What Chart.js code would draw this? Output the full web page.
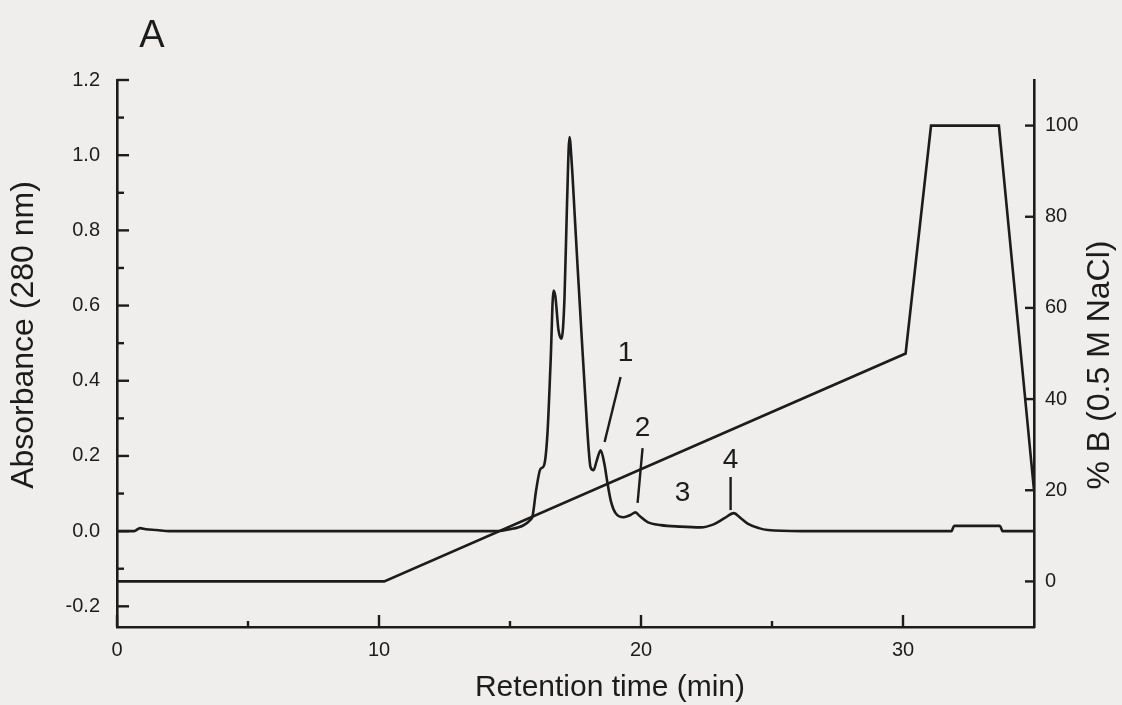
<!DOCTYPE html>
<html>
<head>
<meta charset="utf-8">
<title>Retention time chromatogram</title>
<script src="https://cdn.jsdelivr.net/npm/chart.js@4.4.1/dist/chart.umd.min.js"></script>
<style>
  html, body { margin: 0; padding: 0; background: #efeeec; }
  #wrap { width: 1122px; height: 705px; }
  canvas { display: block; }
</style>
</head>
<body>
<div id="wrap"><canvas id="chart" width="1122" height="705"></canvas></div>
<script>
// Absorbance trace (280 nm) against retention time
const timeMin = [
  0, 0.65, 0.88, 1.1, 1.5, 2.0, 8.0, 14.5, 15.0, 15.5, 15.75, 15.86, 16.0, 16.16, 16.3,
  16.43, 16.55, 16.66, 16.73, 16.85, 16.97, 17.08, 17.18, 17.27, 17.36, 17.47, 17.58,
  17.75, 17.88, 18.0, 18.07, 18.19, 18.3, 18.46, 18.6, 18.72, 18.85, 19.03, 19.34, 19.6,
  19.79, 19.95, 20.25, 20.75, 21.5, 22.28, 22.77, 23.2, 23.54, 23.8, 24.07, 24.5, 24.84,
  26.1, 31.85, 31.95, 33.7, 33.8, 35.0
];
const absorbance = [
  0, 0, 0.008, 0.005, 0.003, 0, 0, 0, 0.005, 0.015, 0.028, 0.04, 0.11, 0.165, 0.175,
  0.26, 0.45, 0.64, 0.625, 0.535, 0.512, 0.62, 0.88, 1.048, 0.975, 0.84, 0.703,
  0.5, 0.349, 0.22, 0.171, 0.162, 0.185, 0.215, 0.18, 0.128, 0.08, 0.048, 0.037, 0.043,
  0.05, 0.04, 0.024, 0.016, 0.012, 0.01, 0.018, 0.035, 0.048, 0.035, 0.02, 0.008, 0.003,
  0, 0, 0.014, 0.014, 0, 0
];

// Salt gradient programme, % B (0.5 M NaCl)
const gradTime = [0, 10.2, 30.1, 31.07, 33.66, 35.0];
const gradPct  = [0, 0, 50, 100, 100, 20];

// Axis ticks
const timeTicks  = [0, 10, 20, 30];
const timeMinor  = [5, 15, 25];
const absTicks   = [-0.2, 0.0, 0.2, 0.4, 0.6, 0.8, 1.0, 1.2];
const absMinor   = [-0.1, 0.1, 0.3, 0.5, 0.7, 0.9, 1.1];
const pctTicks   = [0, 20, 40, 60, 80, 100];

// Fraction labels: text, text position (min, AU), leader line from/to (min, AU)
const fracNames = ['1', '2', '3', '4'];
const fracText  = [[19.41, 0.474], [20.06, 0.274], [21.59, 0.101], [23.42, 0.189]];
const fracLead  = [
  [[19.22, 0.41], [18.61, 0.237]],
  [[20.06, 0.221], [19.87, 0.075]],
  null,
  [[23.42, 0.144], [23.42, 0.056]]
];

const INK = '#1c1c1c';
const FONT = '"Liberation Sans", Arial, Helvetica, sans-serif';

const fixedSize = (w, h) => (scale) => {
  if (w != null) scale.width = w;
  if (h != null) scale.height = h;
};
const setTicks = (values) => (scale) => {
  scale.ticks = values.map(v => ({ value: v }));
};

// Inward tick marks, titles and fraction labels
const decorations = {
  id: 'decorations',
  beforeDraw(chart) {
    const { ctx, width, height } = chart;
    ctx.save();
    ctx.fillStyle = '#efeeec';
    ctx.fillRect(0, 0, width, height);
    ctx.restore();
  },
  afterDatasetsDraw(chart) {
    const { ctx, chartArea: ca, scales: { x, y, y1 } } = chart;
    ctx.save();
    ctx.strokeStyle = INK;
    ctx.lineWidth = 2.4;
    ctx.lineCap = 'butt';
    const seg = (x0, y0, x1, y1_) => {
      ctx.beginPath(); ctx.moveTo(x0, y0); ctx.lineTo(x1, y1_); ctx.stroke();
    };
    absTicks.forEach(v => { const p = y.getPixelForValue(v); seg(ca.left, p, ca.left + 12, p); });
    absMinor.forEach(v => { const p = y.getPixelForValue(v); seg(ca.left, p, ca.left + 7, p); });
    pctTicks.forEach(v => { const p = y1.getPixelForValue(v); seg(ca.right - 9, p, ca.right, p); });
    timeTicks.forEach(v => { const p = x.getPixelForValue(v); seg(p, ca.bottom, p, ca.bottom - 12); });
    timeMinor.forEach(v => { const p = x.getPixelForValue(v); seg(p, ca.bottom, p, ca.bottom - 6); });

    // leader lines to fractions
    fracLead.forEach(l => {
      if (!l) return;
      seg(x.getPixelForValue(l[0][0]), y.getPixelForValue(l[0][1]),
          x.getPixelForValue(l[1][0]), y.getPixelForValue(l[1][1]));
    });

    ctx.fillStyle = INK;
    ctx.textAlign = 'center';
    ctx.textBaseline = 'middle';
    ctx.font = '28px ' + FONT;
    fracNames.forEach((t, i) => {
      ctx.fillText(t, x.getPixelForValue(fracText[i][0]), y.getPixelForValue(fracText[i][1]));
    });

    // panel letter
    ctx.textBaseline = 'alphabetic';
    ctx.font = '38px ' + FONT;
    ctx.fillText('A', 152, 47);

    // axis titles
    ctx.textBaseline = 'middle';
    ctx.font = '30px ' + FONT;
    ctx.fillText('Retention time (min)', 610, 688);

    ctx.font = '32px ' + FONT;
    ctx.save();
    ctx.translate(24, 335);
    ctx.rotate(-Math.PI / 2);
    ctx.fillText('Absorbance (280 nm)', 0, 0);
    ctx.restore();

    ctx.save();
    ctx.translate(1100, 365);
    ctx.rotate(-Math.PI / 2);
    ctx.fillText('% B (0.5 M NaCl)', 0, 0);
    ctx.restore();

    ctx.restore();
  }
};

new Chart(document.getElementById('chart'), {
  type: 'line',
  data: {
    datasets: [
      {
        label: 'Absorbance (280 nm)',
        data: timeMin.map((t, i) => ({ x: t, y: absorbance[i] })),
        yAxisID: 'y',
        borderColor: INK,
        borderWidth: 2.6,
        pointRadius: 0,
        cubicInterpolationMode: 'monotone',
        fill: false
      },
      {
        label: '% B (0.5 M NaCl)',
        data: gradTime.map((t, i) => ({ x: t, y: gradPct[i] })),
        yAxisID: 'y1',
        borderColor: INK,
        borderWidth: 2.6,
        pointRadius: 0,
        tension: 0,
        fill: false
      }
    ]
  },
  options: {
    responsive: false,
    animation: false,
    devicePixelRatio: 1,
    layout: { padding: { top: 80, left: 0, right: 0, bottom: 0 } },
    plugins: { legend: { display: false }, tooltip: { enabled: false }, title: { display: false } },
    scales: {
      x: {
        type: 'linear',
        min: 0,
        max: 35,
        afterFit: fixedSize(null, 78),
        afterBuildTicks: setTicks(timeTicks),
        grid: { drawOnChartArea: false, drawTicks: false },
        border: { display: true, color: INK, width: 2.6 },
        ticks: { color: INK, font: { family: FONT, size: 20 }, padding: 11, maxRotation: 0,
                 callback: v => String(v) }
      },
      y: {
        type: 'linear',
        position: 'left',
        min: -0.255,
        max: 1.2,
        afterFit: fixedSize(117, null),
        afterBuildTicks: setTicks(absTicks),
        grid: { drawOnChartArea: false, drawTicks: false },
        border: { display: true, color: INK, width: 2.6 },
        ticks: { color: INK, font: { family: FONT, size: 20 }, padding: 17,
                 callback: v => v.toFixed(1) }
      },
      y1: {
        type: 'linear',
        position: 'right',
        min: -10,
        max: 110,
        afterFit: fixedSize(88, null),
        afterBuildTicks: setTicks(pctTicks),
        grid: { drawOnChartArea: false, drawTicks: false },
        border: { display: true, color: INK, width: 2.6 },
        ticks: { color: INK, font: { family: FONT, size: 20 }, padding: 11,
                 callback: v => String(v) }
      }
    }
  },
  plugins: [decorations]
});
</script>
</body>
</html>
